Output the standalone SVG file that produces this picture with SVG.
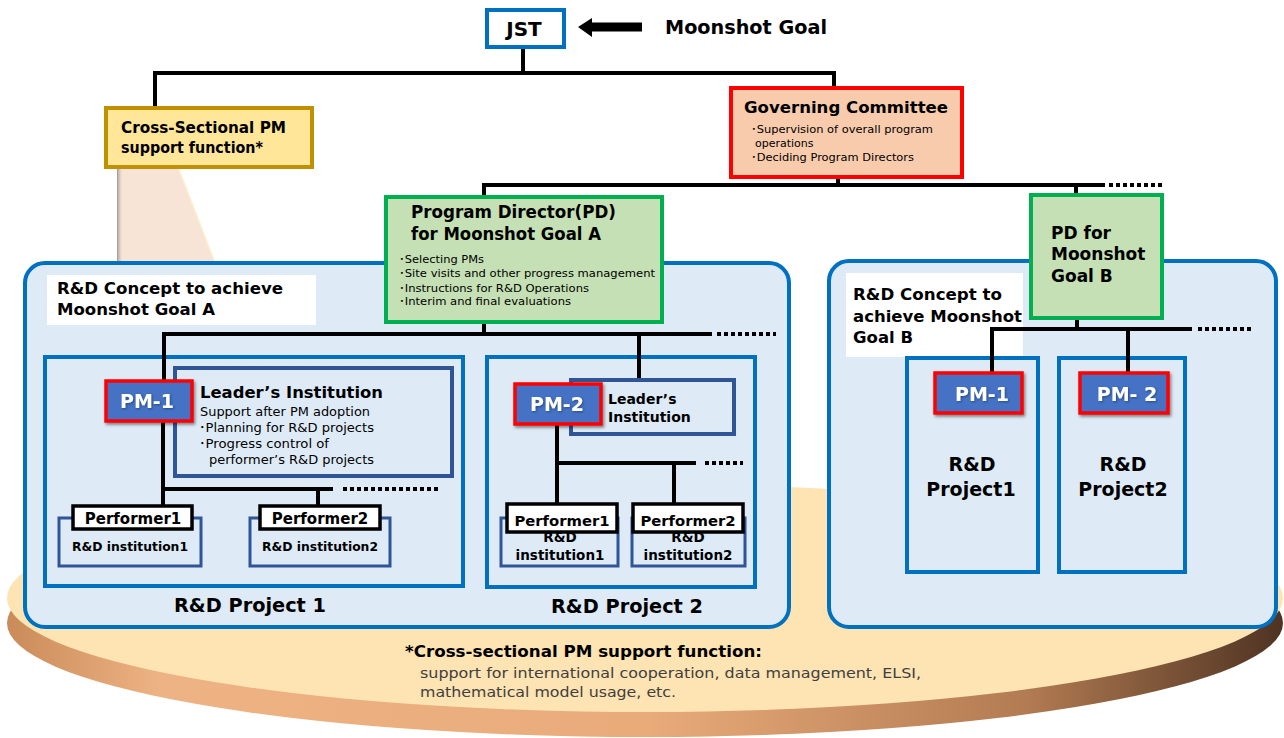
<svg xmlns="http://www.w3.org/2000/svg" width="1284" height="738" viewBox="0 0 1284 738">
<defs>
<style>
.t{font-family:"DejaVu Sans","Noto Sans CJK JP",sans-serif;fill:#000}
.b{font-weight:bold}
.w{fill:#fff}
.c{text-anchor:middle}
.g{fill:#404040}
.ln{fill:none;stroke:#000;stroke-width:4}
.dot{fill:none;stroke:#000;stroke-width:4;stroke-dasharray:4 3}
.panel{fill:#deebf7;stroke:#0070c0;stroke-width:4}
.proj{fill:#deebf7;stroke:#0070c0;stroke-width:4}
.lead{fill:#deebf7;stroke:#2f5597;stroke-width:4}
.inst{fill:#deebf7;stroke:#2f5597;stroke-width:3}
.perf{fill:#fff;stroke:#000;stroke-width:3.5}
.pm{fill:#4472c4;stroke:#ff0000;stroke-width:3.5}
.pd{fill:#c5e0b4;stroke:#00b050;stroke-width:4}
</style>
<linearGradient id="side" x1="0" y1="0" x2="1" y2="0">
<stop offset="0" stop-color="#c98b58"/>
<stop offset="0.12" stop-color="#eeb384"/>
<stop offset="0.5" stop-color="#e9ab7a"/>
<stop offset="0.8" stop-color="#b27b52"/>
<stop offset="1" stop-color="#4e3322"/>
</linearGradient>
<linearGradient id="edge" x1="0" y1="0" x2="1" y2="0">
<stop offset="0" stop-color="#8f7f78" stop-opacity="0.9"/>
<stop offset="1" stop-color="#f8e4d6" stop-opacity="0"/>
</linearGradient>
<filter id="sh" x="-20%" y="-20%" width="140%" height="150%">
<feDropShadow dx="1.5" dy="2" stdDeviation="1.8" flood-color="#000" flood-opacity="0.45"/>
</filter>
<filter id="tsh" x="-10%" y="-20%" width="120%" height="150%">
<feDropShadow dx="1" dy="1" stdDeviation="1" flood-color="#1f3864" flood-opacity="0.7"/>
</filter>
</defs>

<g id="disc">
<ellipse cx="645" cy="623" rx="638" ry="114" fill="url(#side)"/>
<ellipse cx="645" cy="598" rx="638" ry="114" fill="#fee3b3"/>
</g>

<g id="beam">
<polygon points="119,167 178,167 330,560 119,560" fill="#f8e4d6"/>
<line x1="178" y1="167" x2="330" y2="560" stroke="#fdf0cc" stroke-width="1.5"/>
<rect x="117" y="167" width="6" height="400" fill="url(#edge)"/>
</g>

<g id="panel-a">
<rect class="panel" x="25" y="263" width="764" height="364" rx="20"/>
<rect x="47" y="275" width="269" height="50" fill="#fff"/>
<text class="t b" font-size="16.5" x="57" y="294" textLength="226" lengthAdjust="spacingAndGlyphs">R&amp;D Concept to achieve</text>
<text class="t b" font-size="16.5" x="57" y="315" textLength="158" lengthAdjust="spacingAndGlyphs">Moonshot Goal A</text>
</g>

<g id="panel-b">
<rect class="panel" x="829" y="261" width="447" height="366" rx="20"/>
<rect x="846" y="273" width="177" height="84" fill="#fff"/>
<text class="t b" font-size="16.5" x="853" y="300" textLength="149" lengthAdjust="spacingAndGlyphs">R&amp;D Concept to</text>
<text class="t b" font-size="16.5" x="853" y="322" textLength="169" lengthAdjust="spacingAndGlyphs">achieve Moonshot</text>
<text class="t b" font-size="16.5" x="853" y="343">Goal B</text>
</g>

<g id="project-a1">
<rect class="proj" x="45" y="357" width="418" height="229"/>
<text class="t b c" font-size="19" x="250" y="612" textLength="152" lengthAdjust="spacingAndGlyphs">R&amp;D Project 1</text>
</g>
<g id="project-a2">
<rect class="proj" x="487" y="357" width="268" height="230"/>
<text class="t b c" font-size="19" x="627" y="613" textLength="152" lengthAdjust="spacingAndGlyphs">R&amp;D Project 2</text>
</g>
<g id="project-b1">
<rect class="proj" x="907" y="358" width="131" height="214"/>
<text class="t b c" font-size="19" x="972" y="471">R&amp;D</text>
<text class="t b c" font-size="19" x="971" y="496">Project1</text>
</g>
<g id="project-b2">
<rect class="proj" x="1059" y="358" width="126" height="214"/>
<text class="t b c" font-size="19" x="1123" y="471">R&amp;D</text>
<text class="t b c" font-size="19" x="1123" y="496">Project2</text>
</g>

<g id="connectors">
<path class="ln" d="M523 48V73"/>
<path class="ln" d="M155 107V73H834V88"/>
<path class="ln" d="M838 178V185"/>
<path class="ln" d="M484 197V185H1105"/>
<path class="ln" d="M1076 185V195"/>
<path class="dot" d="M1109 185H1162"/>
<path class="ln" d="M484 323V334"/>
<path class="ln" d="M164 381V334H712"/>
<path class="ln" d="M639 334V380"/>
<path class="dot" d="M717 334H776"/>
<path class="ln" d="M163 421V489H333"/>
<path class="ln" d="M163 489V506"/>
<path class="ln" d="M318 489V506"/>
<path class="dot" d="M343 489H438"/>
<path class="ln" d="M557 424V504"/>
<path class="ln" d="M557 463H696"/>
<path class="ln" d="M674 463V504"/>
<path class="dot" d="M705 463H743"/>
<path class="ln" d="M1077 318V329"/>
<path class="ln" d="M992 373V329H1192"/>
<path class="ln" d="M1128 329V373"/>
<path class="dot" d="M1198 329H1253"/>
<polygon points="578,27 592,18 592,22.5 642,22.5 642,31.5 592,31.5 592,37" fill="#000"/>
</g>

<g id="jst">
<rect x="487" y="10" width="77" height="37" fill="#fff" stroke="#0070c0" stroke-width="4"/>
<text class="t b c" font-size="20" x="524" y="36">JST</text>
</g>

<g id="moonshot-goal">
<text class="t b" font-size="19" x="665" y="34" textLength="162" lengthAdjust="spacingAndGlyphs">Moonshot Goal</text>
</g>

<g id="cross-sectional">
<rect x="106" y="108" width="206" height="59" fill="#ffe699" stroke="#bf9000" stroke-width="4"/>
<text class="t b" font-size="15" x="121" y="133" textLength="165" lengthAdjust="spacingAndGlyphs">Cross-Sectional PM</text>
<text class="t b" font-size="15" x="121" y="153" textLength="142" lengthAdjust="spacingAndGlyphs">support function*</text>
</g>

<g id="governing-committee">
<rect x="731" y="88" width="231" height="89" fill="#f8cbad" stroke="#ff0000" stroke-width="4"/>
<text class="t b" font-size="16.5" x="744" y="113" textLength="204" lengthAdjust="spacingAndGlyphs">Governing Committee</text>
<text class="t" font-size="11" x="751" y="133" textLength="182" lengthAdjust="spacingAndGlyphs">･Supervision of overall program</text>
<text class="t" font-size="11" x="755" y="147">operations</text>
<text class="t" font-size="11" x="751" y="161" textLength="163" lengthAdjust="spacingAndGlyphs">･Deciding Program Directors</text>
</g>

<g id="pd-a">
<rect class="pd" x="386" y="197" width="276" height="125"/>
<text class="t b" font-size="16.8" x="411" y="218" textLength="205" lengthAdjust="spacingAndGlyphs">Program Director(PD)</text>
<text class="t b" font-size="16.8" x="411" y="240" textLength="190" lengthAdjust="spacingAndGlyphs">for Moonshot Goal A</text>
<text class="t" font-size="11.2" x="399" y="263" textLength="85" lengthAdjust="spacingAndGlyphs">･Selecting PMs</text>
<text class="t" font-size="11.2" x="399" y="277" textLength="256" lengthAdjust="spacingAndGlyphs">･Site visits and other progress management</text>
<text class="t" font-size="11.2" x="399" y="292" textLength="190" lengthAdjust="spacingAndGlyphs">･Instructions for R&amp;D Operations</text>
<text class="t" font-size="11.2" x="399" y="305" textLength="172" lengthAdjust="spacingAndGlyphs">･Interim and final evaluations</text>
</g>

<g id="pd-b">
<rect class="pd" x="1031" y="195" width="131" height="123"/>
<text class="t b" font-size="17" x="1051" y="239">PD for</text>
<text class="t b" font-size="17" x="1051" y="260">Moonshot</text>
<text class="t b" font-size="17" x="1051" y="282">Goal B</text>
</g>

<g id="leader-1">
<rect class="lead" x="175" y="368" width="277" height="108"/>
<text class="t b" font-size="16.5" x="200" y="398" textLength="183" lengthAdjust="spacingAndGlyphs">Leader’s Institution</text>
<text class="t" font-size="13" x="200" y="416" textLength="170" lengthAdjust="spacingAndGlyphs">Support after PM adoption</text>
<text class="t" font-size="13" x="199" y="432" textLength="175" lengthAdjust="spacingAndGlyphs">･Planning for R&amp;D projects</text>
<text class="t" font-size="13" x="199" y="448" textLength="130" lengthAdjust="spacingAndGlyphs">･Progress control of</text>
<text class="t" font-size="13" x="209" y="464" textLength="165" lengthAdjust="spacingAndGlyphs">performer’s R&amp;D projects</text>
</g>

<g id="pm-a1">
<rect class="pm" x="106" y="381" width="86" height="40" filter="url(#sh)"/>
<text class="t b c w" font-size="19" x="147" y="408" filter="url(#tsh)">PM-1</text>
</g>

<g id="inst-a1-1">
<rect class="inst" x="59" y="518" width="142" height="48"/>
<text class="t b c" font-size="12.5" x="130" y="551" textLength="116" lengthAdjust="spacingAndGlyphs">R&amp;D institution1</text>
</g>
<g id="performer-a1-1">
<rect class="perf" x="73" y="506" width="119" height="23"/>
<text class="t b c" font-size="15" x="133" y="524">Performer1</text>
</g>
<g id="inst-a1-2">
<rect class="inst" x="250" y="518" width="140" height="48"/>
<text class="t b c" font-size="12.5" x="320" y="551" textLength="116" lengthAdjust="spacingAndGlyphs">R&amp;D institution2</text>
</g>
<g id="performer-a1-2">
<rect class="perf" x="260" y="506" width="120" height="23"/>
<text class="t b c" font-size="15" x="320" y="524">Performer2</text>
</g>

<g id="leader-2">
<rect class="lead" x="571" y="380" width="163" height="54"/>
<text class="t b" font-size="14" x="608" y="404">Leader’s</text>
<text class="t b" font-size="14" x="608" y="422">Institution</text>
</g>
<g id="pm-a2">
<rect class="pm" x="515" y="384" width="86" height="40" filter="url(#sh)"/>
<text class="t b c w" font-size="19" x="557" y="411" filter="url(#tsh)">PM-2</text>
</g>

<g id="inst-a2-1">
<rect class="inst" x="501" y="518" width="117" height="48"/>
<text class="t b c" font-size="13.5" x="560" y="542">R&amp;D</text>
<text class="t b c" font-size="13.5" x="560" y="560">institution1</text>
</g>
<g id="performer-a2-1">
<rect class="perf" x="507" y="504" width="110" height="28"/>
<text class="t b c" font-size="14.8" x="562" y="526">Performer1</text>
</g>
<g id="inst-a2-2">
<rect class="inst" x="632" y="518" width="113" height="48"/>
<text class="t b c" font-size="13.5" x="688" y="542">R&amp;D</text>
<text class="t b c" font-size="13.5" x="688" y="560">institution2</text>
</g>
<g id="performer-a2-2">
<rect class="perf" x="633" y="504" width="110" height="28"/>
<text class="t b c" font-size="14.8" x="688" y="526">Performer2</text>
</g>

<g id="pm-b1">
<rect class="pm" x="935" y="373" width="87" height="40" filter="url(#sh)"/>
<text class="t b c w" font-size="19" x="982" y="401" filter="url(#tsh)">PM-1</text>
</g>
<g id="pm-b2">
<rect class="pm" x="1080" y="373" width="88" height="40" filter="url(#sh)"/>
<text class="t b c w" font-size="19" x="1127" y="401" filter="url(#tsh)">PM- 2</text>
</g>

<g id="footnote">
<text class="t b" font-size="15.5" x="405" y="657" fill="#262626" textLength="357" lengthAdjust="spacingAndGlyphs">*Cross-sectional PM support function:</text>
<text class="t g" font-size="14" x="420" y="678" textLength="501" lengthAdjust="spacingAndGlyphs">support for international cooperation, data management, ELSI,</text>
<text class="t g" font-size="14" x="420" y="697" textLength="256" lengthAdjust="spacingAndGlyphs">mathematical model usage, etc.</text>
</g>
</svg>
